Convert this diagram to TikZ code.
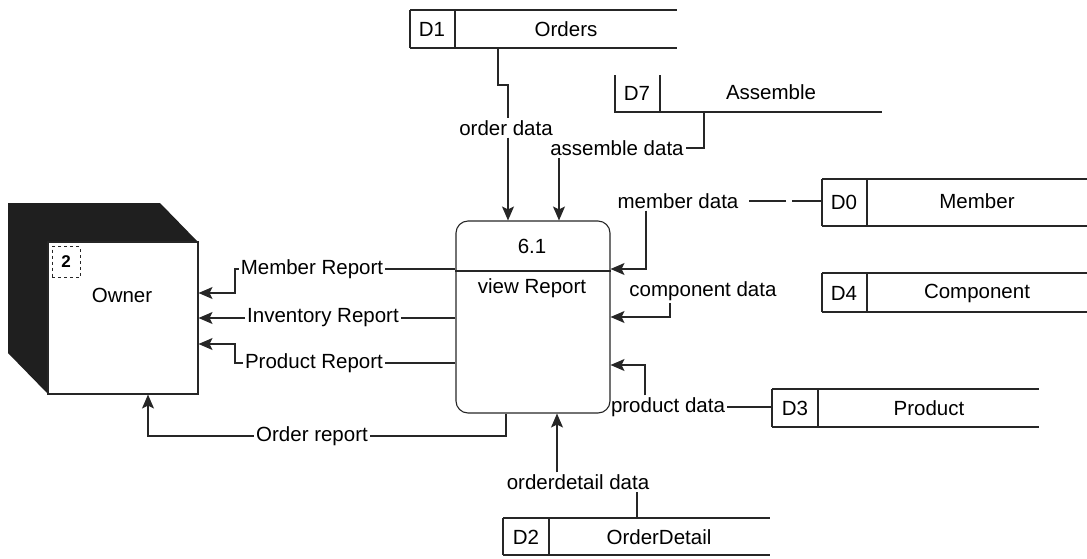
\documentclass[tikz,border=0pt]{standalone}
\usepackage{fontspec}
\setmainfont{Liberation Sans}
\usetikzlibrary{arrows.meta}
\begin{document}
\begin{tikzpicture}[x=1pt,y=-1pt,
  every node/.style={font=\fontsize{20.5}{24}\selectfont, inner sep=2pt},
  ln/.style={draw=black!85, line width=1.1pt},
  flow/.style={ln, -{Stealth[length=14pt,width=12pt,inset=3pt]}},
  lbl/.style={inner sep=2pt},
  proc/.style={ln, rounded corners=12pt, minimum width=154pt, minimum height=192pt},
  ent/.style={ln, fill=white, minimum width=150pt, minimum height=152pt}
]
\useasboundingbox (0,0) rectangle (1087,558);

% ---------- Owner (external entity) ----------
\fill[black!88] (8,203) -- (160,203) -- (198,242) -- (48,242) -- (48,394) -- (8,353) -- cycle;
\node[ent] (O) at (123,318) {};
\node[anchor=center] (Oname) at (122,295) {Owner};
\node[draw=black!85, dashed, line width=0.9pt, minimum width=28pt, minimum height=31pt, inner sep=0pt] (Onum) at (66,262) {};
\node[font=\fontsize{17}{19}\selectfont\bfseries] at (Onum) {2};

% ---------- Process 6.1 ----------
\node[proc] (P) at (533,317) {};
\draw[ln] (P.west |- 0,271) -- (P.east |- 0,271);
\node (Pnum) at (532,246) {6.1};
\node (Pname) at (532,288) {view Report};

% ---------- Data stores ----------
% D1 Orders
\draw[ln] (410,10) -- (677,10) (410,48) -- (677,48) (410,10) -- (410,48) (455,10) -- (455,48);
\node (d1id) at (432,29) {D1};
\node (d1) at (566,29) {Orders};
% D7 Assemble
\draw[ln] (615,75) -- (615,112) -- (882,112) (660,75) -- (660,112);
\node (d7id) at (637,93) {D7};
\node (d7) at (771,92) {Assemble};
% D0 Member
\draw[ln] (822,179) -- (1087,179) (822,226) -- (1087,226) (822,179) -- (822,226) (867,179) -- (867,226);
\node (d0id) at (844,202) {D0};
\node (d0) at (977,201) {Member};
% D4 Component
\draw[ln] (822,273) -- (1087,273) (822,312) -- (1087,312) (822,273) -- (822,312) (867,273) -- (867,312);
\node (d4id) at (844,293) {D4};
\node (d4) at (977,293) {Component};
% D3 Product
\draw[ln] (772,389) -- (1039,389) (772,427) -- (1039,427) (772,389) -- (772,427) (818,389) -- (818,427);
\node (d3id) at (795,408) {D3};
\node (d3) at (929,408) {Product};
% D2 OrderDetail
\draw[ln] (503,518) -- (770,518) (503,555) -- (770,555) (503,518) -- (503,555) (549,518) -- (549,555);
\node (d2id) at (526,537) {D2};
\node (d2) at (659,537) {OrderDetail};

% connection points on stores
\coordinate (d1out) at (498,48);
\coordinate (d7out) at (704,112);
\coordinate (d0in) at (822,201);
\coordinate (d3in) at (772,407);
\coordinate (d2out) at (637,518);

% ---------- Labels ----------
\node[lbl] (odl) at (506,128) {order data};
\node[lbl] (adl) at (617,148) {assemble data};
\node[lbl] (mdl) at (678,201) {member data};
\node[lbl] (cdl) at (703,291) {component data};
\node[lbl] (pdl) at (668,407) {product data};
\node[lbl] (oddl) at (578,482) {orderdetail data};
\node[lbl] (mrl) at (312,269) {Member Report};
\node[lbl] (irl) at (323,318) {Inventory Report};
\node[lbl] (prl) at (314,363) {Product Report};
\node[lbl] (orl) at (312,436) {Order report};

% x positions
\coordinate (xod) at (508,0);
\coordinate (xad) at (559,0);
\coordinate (xmd) at (646,0);
\coordinate (xcd) at (670,0);
\coordinate (xpd) at (645,0);
\coordinate (xodd) at (557,0);
\coordinate (xor) at (506,0);
\coordinate (xow) at (148,0);

% ---------- Flows ----------
% order data
\draw[ln] (d1out) -- (498,85) -- (508,85) -- (odl.north -| xod);
\draw[flow] (odl.south -| xod) -- (P.north -| xod);
% assemble data
\draw[ln] (d7out) |- (adl.east);
\draw[flow] (adl.south -| xad) -- (P.north -| xad);
% member data
\coordinate (g1) at (792,201);
\coordinate (g2) at (786,201);
\draw[ln] (d0in) -- (g1);
\draw[ln] (g2) -- ([xshift=8pt]mdl.east);
\draw[flow] (mdl.south -| xmd) -- (646,269) -- (P.east |- 0,269);
% component data
\draw[flow] (cdl.south -| xcd) -- (670,317) -- (P.east |- 0,317);
% product data
\draw[ln] (pdl.east) -- (d3in);
\draw[flow] (pdl.north -| xpd) -- (645,365) -- (P.east |- 0,365);
% orderdetail data
\draw[ln] (d2out) -- (oddl.south -| d2out);
\draw[flow] (oddl.north -| xodd) -- (P.south -| xodd);
% reports to Owner
\draw[ln] (P.west |- mrl) -- (mrl.east);
\draw[flow] (mrl.west) -- (235,269) -- (235,293) -- (O.east |- 0,293);
\draw[ln] (P.west |- irl) -- (irl.east);
\draw[flow] (irl.west) -- (O.east |- irl);
\draw[ln] (P.west |- prl) -- (prl.east);
\draw[flow] (prl.west) -- (235,363) -- (235,344) -- (O.east |- 0,344);
\draw[ln] (P.south -| xor) |- (orl.east);
\draw[flow] (orl.west) -| (O.south -| xow);
\end{tikzpicture}
\end{document}
